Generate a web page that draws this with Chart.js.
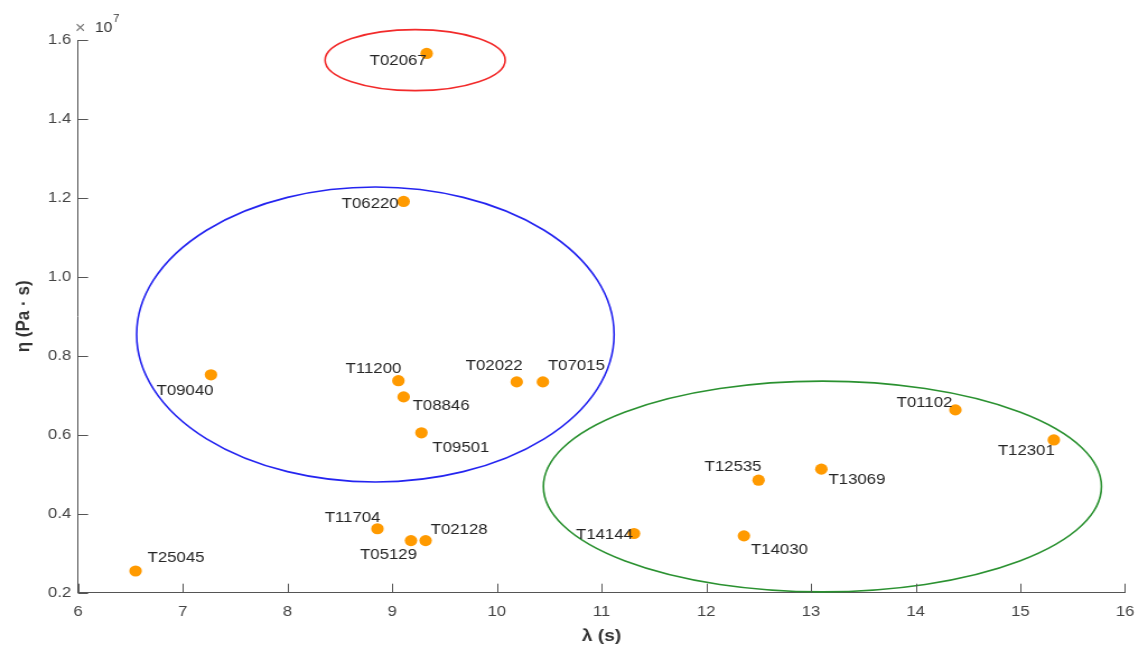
<!DOCTYPE html>
<html>
<head>
<meta charset="utf-8">
<title>eta vs lambda</title>
<script src="https://cdn.jsdelivr.net/npm/chart.js@4"></script>
<style>
  html, body { margin: 0; padding: 0; background: #fff; overflow: hidden; }
  #wrap { position: absolute; left: 0; top: 0; height: 650px; transform-origin: 0 0; }
</style>
</head>
<body>
<div id="wrap"><canvas id="chart"></canvas></div>
<script>
// sample names and measured values (eta in Pa·s)
const names = ['T02067', 'T06220', 'T09040', 'T11200', 'T08846', 'T09501', 'T02022', 'T07015', 'T11704',
  'T05129', 'T02128', 'T25045', 'T14144', 'T14030', 'T12535', 'T13069', 'T01102', 'T12301'];
const lambda = [9.33, 9.11, 7.27, 9.06, 9.11, 9.28, 10.19, 10.44, 8.86, 9.18, 9.32, 6.55, 11.31, 12.36, 12.50, 13.10, 14.38, 15.32];
const eta = [15660000, 11910000, 7520000, 7370000, 6960000, 6050000, 7340000, 7340000, 3620000,
  3320000, 3320000, 2550000, 3500000, 3440000, 4850000, 5130000, 6630000, 5870000];

const xTicks = [6, 7, 8, 9, 10, 11, 12, 13, 14, 15, 16];
const yTicks = [2000000, 4000000, 6000000, 8000000, 10000000, 12000000, 14000000, 16000000];

// group ellipses in data units: centre lambda, centre eta, half widths
const ellipseCx = [9.22, 8.84, 13.11];
const ellipseCy = [15490000, 8540000, 4690000];
const ellipseRx = [0.86, 2.28, 2.665];
const ellipseRy = [773000, 3736000, 2670000];
const ellipseColors = ['#f22a2a', '#2424f0', '#2a9130'];

// where each name sits relative to its dot (screen px)
const labelAnchors = [
  [0, 7, 'right'], [-5, 2, 'right'], [-26, 16, 'center'], [3, -12, 'right'], [9, 9, 'left'], [11, 15, 'left'],
  [6, -16, 'right'], [5, -16, 'left'], [3, -11, 'right'], [6, 14, 'right'], [5, -11, 'left'], [12, -13, 'left'],
  [-1, 1, 'right'], [7, 14, 'left'], [3, -13, 'right'], [7, 11, 'left'], [-3, -7, 'right'], [1, 11, 'right']
];

const S = 1.12; // source picture is stretched sideways
const W = 1136 / S;
const wrap = document.getElementById('wrap');
wrap.style.width = W + 'px';
wrap.style.transform = 'scaleX(' + S + ')';

const ellipsePlugin = {
  id: 'ellipses',
  beforeDatasetsDraw(chart) {
    const { ctx, scales: { x, y } } = chart;
    ctx.save();
    ctx.lineWidth = 1.6;
    for (let i = 0; i < ellipseCx.length; i++) {
      const cx = x.getPixelForValue(ellipseCx[i]);
      const cy = y.getPixelForValue(ellipseCy[i]);
      const rx = x.getPixelForValue(ellipseCx[i] + ellipseRx[i]) - cx;
      const ry = cy - y.getPixelForValue(ellipseCy[i] + ellipseRy[i]);
      ctx.strokeStyle = ellipseColors[i];
      ctx.beginPath();
      ctx.ellipse(cx, cy, rx, ry, 0, 0, Math.PI * 2);
      ctx.stroke();
    }
    ctx.restore();
  }
};

const labelPlugin = {
  id: 'names',
  afterDatasetsDraw(chart) {
    const { ctx } = chart;
    const meta = chart.getDatasetMeta(0);
    ctx.save();
    ctx.font = '15px "Liberation Sans", Arial, sans-serif';
    ctx.fillStyle = '#262626';
    ctx.textBaseline = 'middle';
    meta.data.forEach((pt, i) => {
      const a = labelAnchors[i];
      ctx.textAlign = a[2];
      ctx.fillText(names[i], pt.x + a[0] / S, pt.y + a[1]);
    });
    ctx.restore();
  }
};

const axisPlugin = {
  id: 'innerTicks',
  afterDraw(chart) {
    const { ctx, chartArea: a, scales: { x, y } } = chart;
    ctx.save();
    ctx.strokeStyle = '#555';
    ctx.lineWidth = 1;
    ctx.beginPath();
    xTicks.forEach(v => {
      const px = Math.round(x.getPixelForValue(v)) + 0.5;
      ctx.moveTo(px, a.bottom);
      ctx.lineTo(px, a.bottom - 9);
    });
    yTicks.forEach(v => {
      const py = Math.round(y.getPixelForValue(v)) + 0.5;
      ctx.moveTo(a.left, py);
      ctx.lineTo(a.left + 9, py);
    });
    ctx.stroke();
    // exponent marker
    ctx.fillStyle = '#777';
    ctx.textBaseline = 'middle';
    ctx.textAlign = 'left';
    ctx.font = '16px "Liberation Sans", Arial, sans-serif';
    ctx.fillText('\u00d7', 75 / S, 29);
    ctx.fillStyle = '#333';
    ctx.font = '14px "Liberation Sans", Arial, sans-serif';
    ctx.fillText('10', 95 / S, 28);
    ctx.font = '10px "Liberation Sans", Arial, sans-serif';
    ctx.fillText('7', 113 / S, 19);
    ctx.restore();
  }
};

new Chart(document.getElementById('chart'), {
  type: 'scatter',
  data: {
    datasets: [{
      data: lambda.map((v, i) => ({ x: v, y: eta[i] })),
      backgroundColor: '#ff9a00',
      borderWidth: 0,
      pointRadius: 5.6,
      pointHoverRadius: 5.6
    }]
  },
  options: {
    responsive: true,
    maintainAspectRatio: false,
    animation: false,
    events: [],
    layout: { padding: { top: 40, right: W - 1125 / S, left: 0, bottom: 0 } },
    plugins: { legend: { display: false }, tooltip: { enabled: false } },
    scales: {
      x: {
        type: 'linear',
        min: 6, max: 16,
        afterBuildTicks: s => { s.ticks = xTicks.map(v => ({ value: v })); },
        afterFit: s => { s.height = 650 - 592.7; s.paddingRight = 0; s.paddingLeft = 0; },
        grid: { display: false, drawTicks: false },
        border: { display: true, color: '#555', width: 1 },
        ticks: { color: '#444', padding: 10, font: { size: 15, family: '"Liberation Sans", Arial, sans-serif' } },
        title: { display: true, text: '\u03bb (s)', color: '#333', padding: { top: 0, bottom: 3 },
          font: { size: 17, weight: 'bold', family: '"Liberation Sans", Arial, sans-serif' } }
      },
      y: {
        type: 'linear',
        min: 2000000, max: 16000000,
        afterBuildTicks: s => { s.ticks = yTicks.map(v => ({ value: v })); },
        afterFit: s => { s.width = 78 / S; s.paddingTop = 0; s.paddingBottom = 0; },
        grid: { display: false, drawTicks: false },
        border: { display: true, color: '#555', width: 1 },
        ticks: { color: '#444', padding: 6, callback: v => (v / 1e7).toFixed(1),
          font: { size: 15, family: '"Liberation Sans", Arial, sans-serif' } },
        title: { display: true, text: '\u03b7 (Pa \u00b7 s)', color: '#333', padding: { top: 11, bottom: 0 },
          font: { size: 17, weight: 'bold', family: '"Liberation Sans", Arial, sans-serif' } }
      }
    }
  },
  plugins: [ellipsePlugin, labelPlugin, axisPlugin]
});
</script>
</body>
</html>
